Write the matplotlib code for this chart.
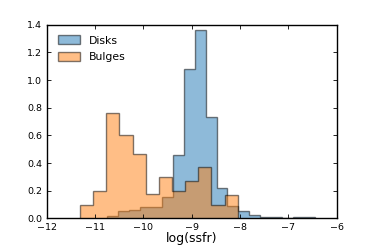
import numpy as np
import matplotlib
matplotlib.use("Agg")
import matplotlib.pyplot as plt

# bin ranges and heights
disk_range = (-10.746, -6.452)
disk_counts = [0.017, 0.053, 0.06, 0.084, 0.08, 0.156, 0.46, 1.077, 1.36, 0.73,
               0.217, 0.09, 0.055, 0.024, 0.012, 0.012, 0.0, 0.008, 0.008]

bulge_range = (-11.31, -8.048)
bulge_counts = [0.10, 0.20, 0.76, 0.60, 0.463, 0.174, 0.296, 0.20, 0.272, 0.369,
                0.10, 0.168]

labels = ["Disks", "Bulges"]

disk_edges = np.linspace(*disk_range, len(disk_counts) + 1)
bulge_edges = np.linspace(*bulge_range, len(bulge_counts) + 1)

fig = plt.figure(figsize=(3.74, 2.49), dpi=100)
ax = fig.add_axes([0.125, 0.123, 0.775, 0.778])

ax.stairs(disk_counts, disk_edges, fill=True, facecolor="#1f77b4",
          edgecolor="k", alpha=0.5, lw=1, label=labels[0])
ax.stairs(bulge_counts, bulge_edges, fill=True, facecolor="#ff7f0e",
          edgecolor="k", alpha=0.5, lw=1, label=labels[1])

ax.set_xlim(-12, -6)
ax.set_ylim(0, 1.4)
ax.set_xticks(np.arange(-12, -5, 1))
ax.set_yticks(np.arange(0, 1.41, 0.2))
ax.tick_params(direction="in", top=True, right=True, labelsize=6.8, length=3, width=0.6)
for s in ax.spines.values():
    s.set_linewidth(1)

ax.set_xlabel("log(ssfr)", fontsize=9, labelpad=0)
ax.legend(loc="upper left", frameon=False, fontsize=7.8, handlelength=2.1,
          handleheight=0.9, labelspacing=0.6, borderaxespad=0.6)

fig.savefig("out.png", dpi=100)
